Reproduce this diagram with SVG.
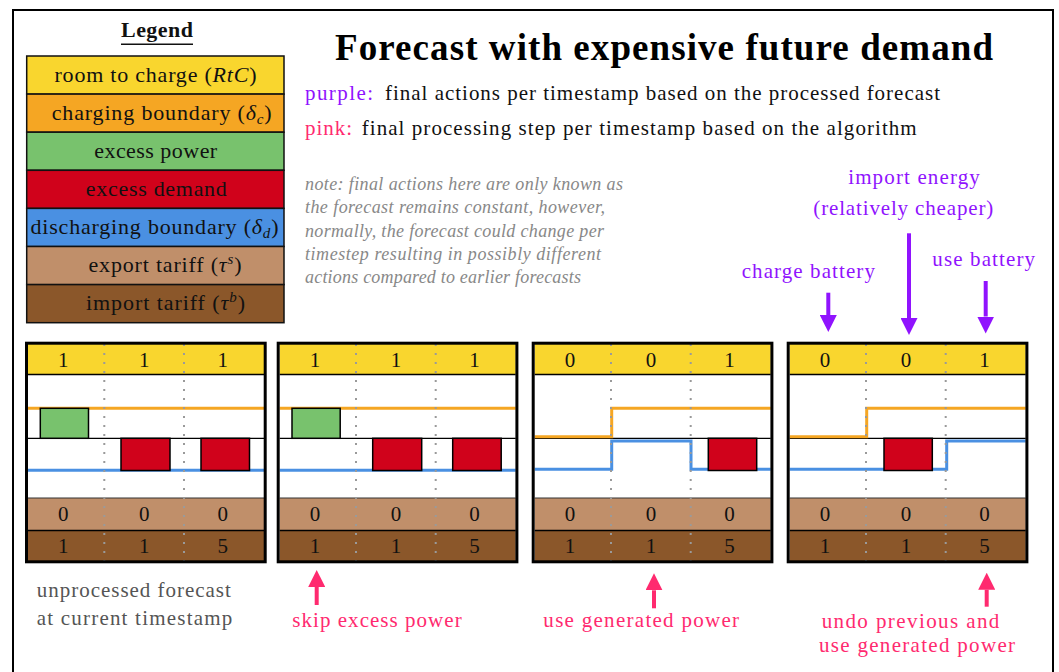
<svg xmlns="http://www.w3.org/2000/svg" width="1059" height="672" viewBox="0 0 1059 672">
<defs>
<style>
text{font-family:"Liberation Serif","Times New Roman",serif}
.pf{stroke:#000;stroke-width:3;fill:none}
.y{fill:#F9D62E}
.w{fill:#fff}
.t{fill:#C08F6A}
.b{fill:#8B572A}
.sep{stroke:#000;stroke-width:1.5}
.sep1{stroke:#000;stroke-width:1.2}
.sepg{stroke:#333;stroke-width:1}
.dot{stroke:#9a9a9a;stroke-width:2;stroke-dasharray:2 7}
.ol{stroke:#F5A623;stroke-width:3;fill:none}
.bl{stroke:#4A90E2;stroke-width:3;fill:none}
.gbox{fill:#78C26D;stroke:#000;stroke-width:1.5}
.rbox{fill:#D0021B;stroke:#000;stroke-width:1.5}
.num{font-size:21px;fill:#111;text-anchor:middle}
.leg{font-size:22px;fill:#111;text-anchor:middle}
.lrow{stroke:#111;stroke-width:1.5}
.head{font-size:21px;fill:#111}
.note{font-size:18px;fill:#888;font-style:italic}
.pur{font-size:21px;fill:#9013FE;text-anchor:middle}
.pnk{font-size:21px;fill:#FF2A6F;text-anchor:middle}
.gry{font-size:21px;fill:#555;text-anchor:middle}
.pa{stroke:#9013FE;stroke-width:4;fill:none}
.ka{stroke:#FF2A6F;stroke-width:4;fill:none}
</style>
<marker id="ahP" viewBox="0 0 17 17" refX="0" refY="8.5" markerWidth="17" markerHeight="17" markerUnits="userSpaceOnUse" orient="auto">
<path d="M0,0 L17,8.5 L0,17 z" fill="#9013FE"/>
</marker>
<marker id="ahK" viewBox="0 0 17 17" refX="0" refY="8.5" markerWidth="17" markerHeight="17" markerUnits="userSpaceOnUse" orient="auto">
<path d="M0,0 L17,8.5 L0,17 z" fill="#FF2A6F"/>
</marker>
</defs>
<rect x="0" y="0" width="1059" height="672" fill="#fff"/>
<rect id="frame" x="13" y="10" width="1040" height="700" fill="none" stroke="#000" stroke-width="2"/>

<g id="legend">
<text x="157" y="36.7" font-size="22" font-weight="bold" text-anchor="middle" textLength="72" fill="#111">Legend</text>
<line x1="121" y1="44.3" x2="193" y2="44.3" stroke="#111" stroke-width="1.5"/>
<rect class="lrow" x="26.7" y="56" width="257.3" height="38.1" fill="#F9D62E"/>
<rect class="lrow" x="26.7" y="94.1" width="257.3" height="38.1" fill="#F5A623"/>
<rect class="lrow" x="26.7" y="132.2" width="257.3" height="38.1" fill="#78C26D"/>
<rect class="lrow" x="26.7" y="170.3" width="257.3" height="38.1" fill="#D0021B"/>
<rect class="lrow" x="26.7" y="208.4" width="257.3" height="38.1" fill="#4A90E2"/>
<rect class="lrow" x="26.7" y="246.5" width="257.3" height="38.1" fill="#C08F6A"/>
<rect class="lrow" x="26.7" y="284.6" width="257.3" height="38.1" fill="#8B572A"/>
<text class="leg" x="155.5" y="81.7" textLength="202">room to charge (<tspan font-style="italic">RtC</tspan>)</text>
<text class="leg" x="161.7" y="119.8" textLength="220">charging boundary (<tspan font-style="italic">δ</tspan><tspan font-style="italic" font-size="15" dy="4">c</tspan><tspan dy="-4">)</tspan></text>
<text class="leg" x="155.7" y="157.9" textLength="123">excess power</text>
<text class="leg" x="156.3" y="196" textLength="141">excess demand</text>
<text class="leg" x="154.5" y="234.1" textLength="248">discharging boundary (<tspan font-style="italic">δ</tspan><tspan font-style="italic" font-size="15" dy="4">d</tspan><tspan dy="-4">)</tspan></text>
<text class="leg" x="165" y="272.2" textLength="153">export tariff (<tspan font-style="italic">τ</tspan><tspan font-style="italic" font-size="15" dy="-8">s</tspan><tspan dy="8">)</tspan></text>
<text class="leg" x="165.5" y="310.3" textLength="159">import tariff (<tspan font-style="italic">τ</tspan><tspan font-style="italic" font-size="15" dy="-8">b</tspan><tspan dy="8">)</tspan></text>
</g>

<g id="header">
<text x="664" y="60" font-size="37" font-weight="bold" text-anchor="middle" textLength="658" fill="#000">Forecast with expensive future demand</text>
<text class="head" x="305" y="100" style="fill:#9013FE" textLength="68">purple:</text>
<text class="head" x="385" y="100" textLength="555">final actions per timestamp based on the processed forecast</text>
<text class="head" x="305" y="135" style="fill:#FF2A6F" textLength="47">pink:</text>
<text class="head" x="361.7" y="135" textLength="555">final processing step per timestamp based on the algorithm</text>
</g>

<g id="note">
<text class="note" x="305" y="190" textLength="318">note: final actions here are only known as</text>
<text class="note" x="305" y="213.3" textLength="300">the forecast remains constant, however,</text>
<text class="note" x="305" y="236.7" textLength="299">normally, the forecast could change per</text>
<text class="note" x="305" y="260" textLength="296">timestep resulting in possibly different</text>
<text class="note" x="305" y="283.3" textLength="276">actions compared to earlier forecasts</text>
</g>

<g id="panel1" transform="translate(25,0)">
<rect class="y" x="3" y="343" width="236" height="31.5"/>
<rect class="w" x="3" y="374.5" width="236" height="123.5"/>
<rect class="t" x="3" y="498" width="236" height="32.5"/>
<rect class="b" x="3" y="530.5" width="236" height="31"/>
<line class="sep" x1="3" y1="374.5" x2="239" y2="374.5"/>
<line class="sep1" x1="3" y1="438.3" x2="239" y2="438.3"/>
<line class="sepg" x1="3" y1="498" x2="239" y2="498"/>
<line class="sep" x1="3" y1="530.5" x2="239" y2="530.5"/>
<path class="ol" d="M3,408.3 H239"/>
<path class="bl" d="M3,470.3 H239"/>
<rect class="gbox" x="15.3" y="408.3" width="48.2" height="30"/>
<rect class="rbox" x="96" y="438.3" width="49" height="32.2"/>
<rect class="rbox" x="176" y="438.3" width="48.5" height="32.2"/>
<line class="dot" x1="79.3" y1="344" x2="79.3" y2="561"/>
<line class="dot" x1="159" y1="344" x2="159" y2="561"/>
<text class="num" x="38.3" y="366.7">1</text><text class="num" x="119.3" y="366.7">1</text><text class="num" x="197.7" y="366.7">1</text>
<text class="num" x="38.3" y="521">0</text><text class="num" x="119.3" y="521">0</text><text class="num" x="197.7" y="521">0</text>
<text class="num" x="38.3" y="552.7">1</text><text class="num" x="119.3" y="552.7">1</text><text class="num" x="197.7" y="552.7">5</text>
<rect class="pf" x="1.5" y="343.2" width="238.7" height="218.6"/>
</g>

<g id="panel2" transform="translate(276.7,0)">
<rect class="y" x="3" y="343" width="236" height="31.5"/>
<rect class="w" x="3" y="374.5" width="236" height="123.5"/>
<rect class="t" x="3" y="498" width="236" height="32.5"/>
<rect class="b" x="3" y="530.5" width="236" height="31"/>
<line class="sep" x1="3" y1="374.5" x2="239" y2="374.5"/>
<line class="sep1" x1="3" y1="438.3" x2="239" y2="438.3"/>
<line class="sepg" x1="3" y1="498" x2="239" y2="498"/>
<line class="sep" x1="3" y1="530.5" x2="239" y2="530.5"/>
<path class="ol" d="M3,408.3 H239"/>
<path class="bl" d="M3,470.3 H239"/>
<rect class="gbox" x="15.3" y="408.3" width="48.2" height="30"/>
<rect class="rbox" x="96" y="438.3" width="49" height="32.2"/>
<rect class="rbox" x="176" y="438.3" width="48.5" height="32.2"/>
<line class="dot" x1="79.3" y1="344" x2="79.3" y2="561"/>
<line class="dot" x1="159" y1="344" x2="159" y2="561"/>
<text class="num" x="38.3" y="366.7">1</text><text class="num" x="119.3" y="366.7">1</text><text class="num" x="197.7" y="366.7">1</text>
<text class="num" x="38.3" y="521">0</text><text class="num" x="119.3" y="521">0</text><text class="num" x="197.7" y="521">0</text>
<text class="num" x="38.3" y="552.7">1</text><text class="num" x="119.3" y="552.7">1</text><text class="num" x="197.7" y="552.7">5</text>
<rect class="pf" x="1.5" y="343.2" width="238.7" height="218.6"/>
</g>

<g id="panel3" transform="translate(531.7,0)">
<rect class="y" x="3" y="343" width="236" height="31.5"/>
<rect class="w" x="3" y="374.5" width="236" height="123.5"/>
<rect class="t" x="3" y="498" width="236" height="32.5"/>
<rect class="b" x="3" y="530.5" width="236" height="31"/>
<line class="sep" x1="3" y1="374.5" x2="239" y2="374.5"/>
<line class="sep1" x1="3" y1="438.3" x2="239" y2="438.3"/>
<line class="sepg" x1="3" y1="498" x2="239" y2="498"/>
<line class="sep" x1="3" y1="530.5" x2="239" y2="530.5"/>
<path class="ol" d="M3,436.7 H80 V408.3 H239"/>
<path class="bl" d="M3,469.3 H80 V441 H159.3 V469.3 H239"/>
<rect class="rbox" x="176.6" y="438.3" width="48.4" height="32.2"/>
<line class="dot" x1="79.3" y1="344" x2="79.3" y2="561"/>
<line class="dot" x1="159" y1="344" x2="159" y2="561"/>
<text class="num" x="38.3" y="366.7">0</text><text class="num" x="119.3" y="366.7">0</text><text class="num" x="197.7" y="366.7">1</text>
<text class="num" x="38.3" y="521">0</text><text class="num" x="119.3" y="521">0</text><text class="num" x="197.7" y="521">0</text>
<text class="num" x="38.3" y="552.7">1</text><text class="num" x="119.3" y="552.7">1</text><text class="num" x="197.7" y="552.7">5</text>
<rect class="pf" x="1.5" y="343.2" width="238.7" height="218.6"/>
</g>

<g id="panel4" transform="translate(786.7,0)">
<rect class="y" x="3" y="343" width="236" height="31.5"/>
<rect class="w" x="3" y="374.5" width="236" height="123.5"/>
<rect class="t" x="3" y="498" width="236" height="32.5"/>
<rect class="b" x="3" y="530.5" width="236" height="31"/>
<line class="sep" x1="3" y1="374.5" x2="239" y2="374.5"/>
<line class="sep1" x1="3" y1="438.3" x2="239" y2="438.3"/>
<line class="sepg" x1="3" y1="498" x2="239" y2="498"/>
<line class="sep" x1="3" y1="530.5" x2="239" y2="530.5"/>
<path class="ol" d="M3,436.7 H80 V408.3 H239"/>
<path class="bl" d="M3,469.3 H160 V441 H239"/>
<rect class="rbox" x="97.3" y="438.3" width="48.3" height="32.2"/>
<line class="dot" x1="79.3" y1="344" x2="79.3" y2="561"/>
<line class="dot" x1="159" y1="344" x2="159" y2="561"/>
<text class="num" x="38.3" y="366.7">0</text><text class="num" x="119.3" y="366.7">0</text><text class="num" x="197.7" y="366.7">1</text>
<text class="num" x="38.3" y="521">0</text><text class="num" x="119.3" y="521">0</text><text class="num" x="197.7" y="521">0</text>
<text class="num" x="38.3" y="552.7">1</text><text class="num" x="119.3" y="552.7">1</text><text class="num" x="197.7" y="552.7">5</text>
<rect class="pf" x="1.5" y="343.2" width="238.7" height="218.6"/>
</g>

<g id="labels">
<text class="gry" x="133.8" y="597.3" textLength="194">unprocessed forecast</text>
<text class="gry" x="134.5" y="625" textLength="195.5">at current timestamp</text>
<text class="pur" x="914" y="183.5" textLength="131.7">import energy</text>
<text class="pur" x="903.3" y="215" textLength="180">(relatively cheaper)</text>
<text class="pur" x="808.3" y="277.5" textLength="133.3">charge battery</text>
<text class="pur" x="983.7" y="265.5" textLength="102.7">use battery</text>
<text class="pnk" x="377" y="627" textLength="169.3">skip excess power</text>
<text class="pnk" x="641.2" y="627" textLength="195.7">use generated power</text>
<text class="pnk" x="910.5" y="628.3" textLength="177.7">undo previous and</text>
<text class="pnk" x="917" y="651.7" textLength="196">use generated power</text>
</g>

<g id="connectors">
<line class="pa" x1="828.3" y1="292.7" x2="828.3" y2="315" marker-end="url(#ahP)"/>
<line class="pa" x1="909" y1="233.3" x2="909" y2="318" marker-end="url(#ahP)"/>
<line class="pa" x1="985.7" y1="281" x2="985.7" y2="316.5" marker-end="url(#ahP)"/>
<line class="ka" x1="316.7" y1="605" x2="316.7" y2="587" marker-end="url(#ahK)"/>
<line class="ka" x1="654" y1="608.3" x2="654" y2="590.3" marker-end="url(#ahK)"/>
<line class="ka" x1="986.7" y1="606.7" x2="986.7" y2="589.7" marker-end="url(#ahK)"/>
</g>
</svg>
